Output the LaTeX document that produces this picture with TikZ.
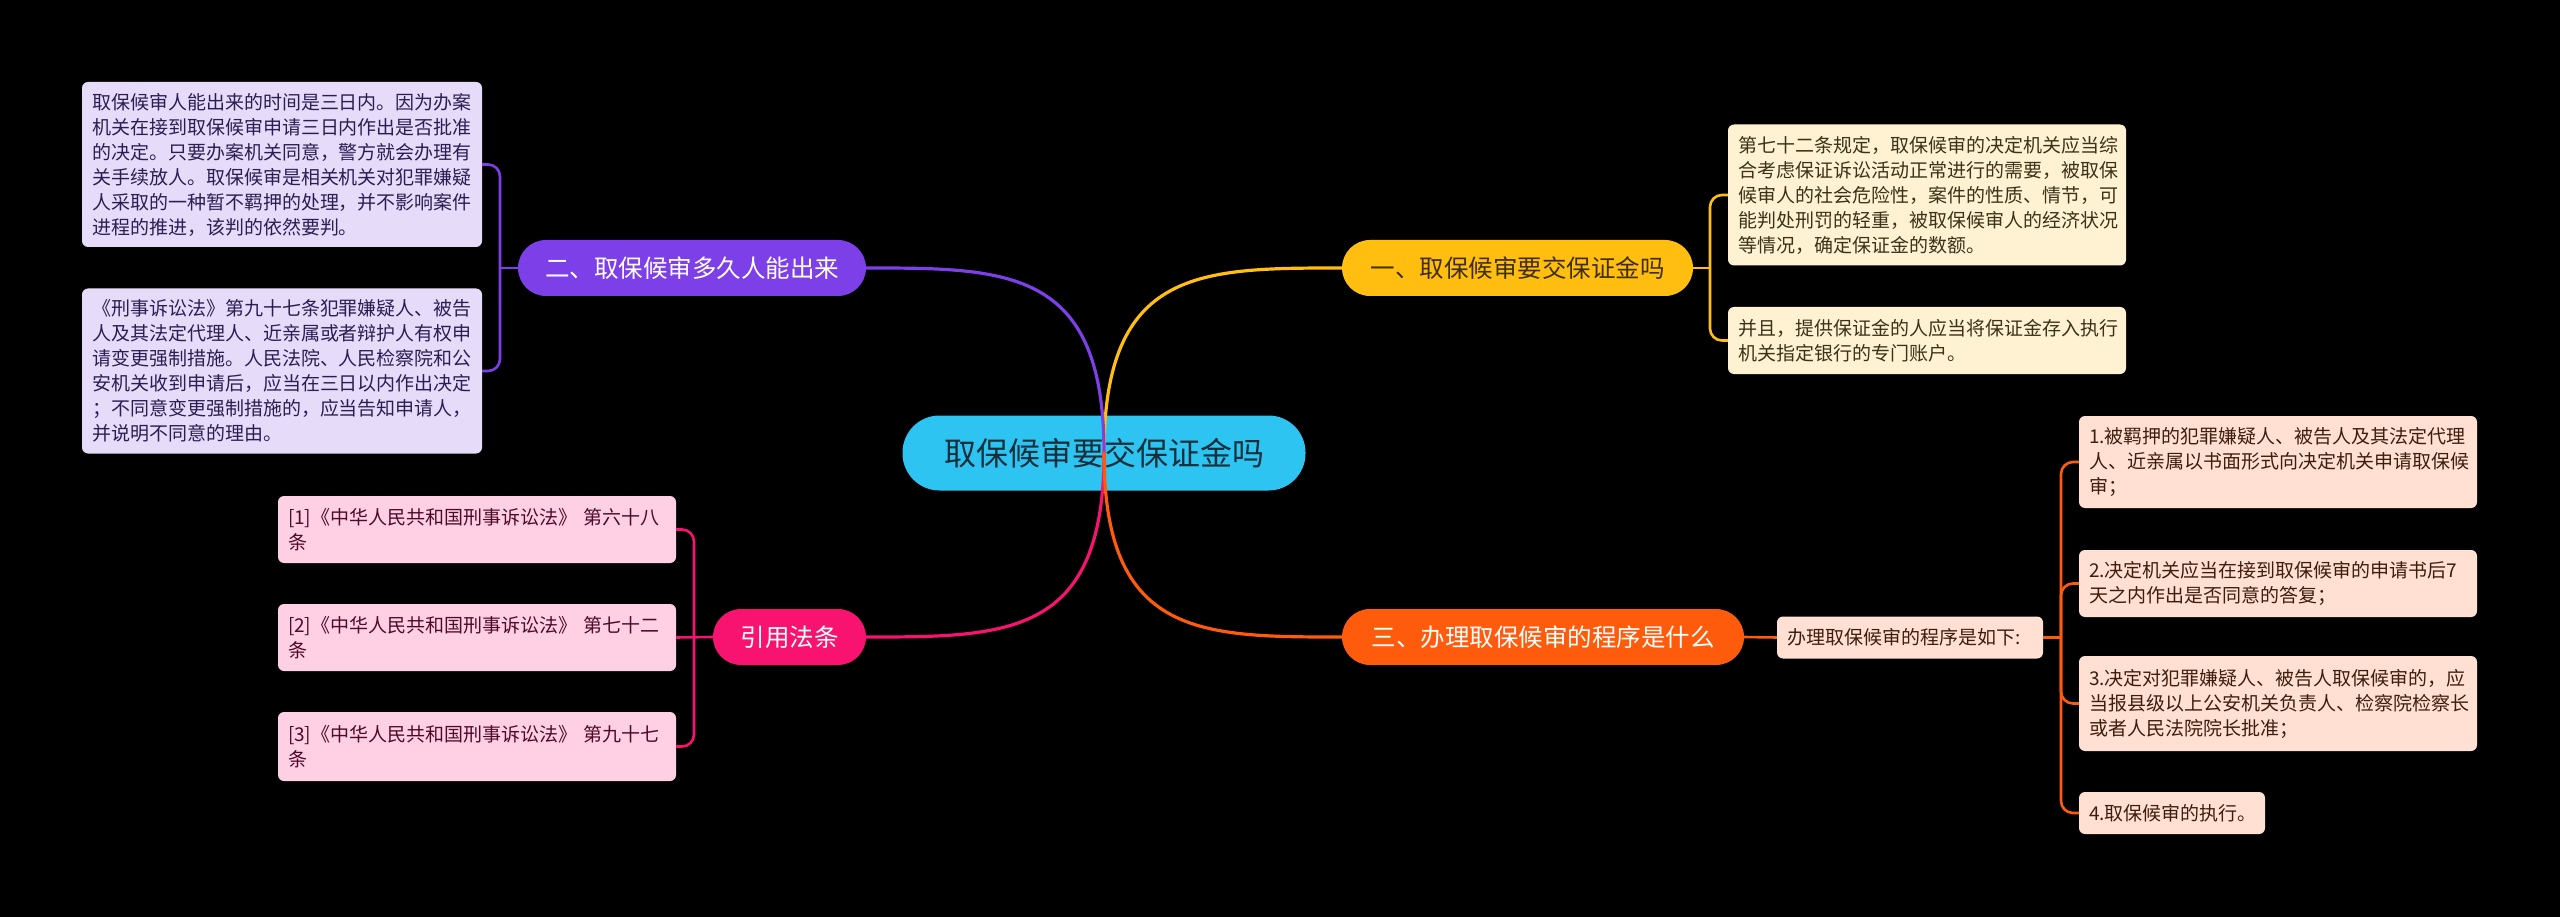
\documentclass[tikz,border=0pt]{standalone}
\usepackage{fontspec}
\newfontfamily\cjk{Noto Sans CJK SC}
\definecolor{bgc}{HTML}{000000}
\definecolor{rootc}{HTML}{2EC4F2}
\definecolor{roottxt}{HTML}{15303C}
\definecolor{cy}{HTML}{FFBE10}
\definecolor{cytxt}{HTML}{3F2E00}
\definecolor{cp}{HTML}{7D3FE8}
\definecolor{ck}{HTML}{F7136F}
\definecolor{co}{HTML}{FF5B0D}
\definecolor{ly}{HTML}{FFF2D3}
\definecolor{lp}{HTML}{E6DCFA}
\definecolor{lk}{HTML}{FFD0E4}
\definecolor{lo}{HTML}{FFE0D2}
\definecolor{ty}{HTML}{3B3218}
\definecolor{tp}{HTML}{2C1E52}
\definecolor{tk}{HTML}{4D0A2A}
\definecolor{to}{HTML}{3D1E0E}
\tikzset{
  rootnode/.style={rounded corners=37, fill=rootc, minimum width=403, minimum height=75, inner sep=0, text=roottxt, font=\cjk\fontsize{32}{38}\selectfont},
  branch/.style={rounded corners=28, minimum height=56, inner sep=0, font=\cjk\fontsize{24.5}{30}\selectfont},
  leaf/.style={rounded corners=6, inner xsep=10, inner ysep=0, align=left, font=\cjk\fontsize{19}{25}\selectfont},
  mainline/.style={line width=3.2, line cap=round},
  subline/.style={line width=2.6},
}
\begin{document}
\begin{tikzpicture}[x=1pt,y=-1pt]
\useasboundingbox (0,0) rectangle (2560,917);
\fill[bgc] (0,0) rectangle (2560,917);

% root
\node[rootnode] (root) at (1104,453) {取保候审要交保证金吗};

% branches
\node[branch, fill=cy, text=cytxt, minimum width=351] (b1) at (1517.5,268) {一、取保候审要交保证金吗};
\node[branch, fill=cp, text=white, minimum width=348] (b2) at (692,268) {二、取保候审多久人能出来};
\node[branch, fill=ck, text=white, minimum width=153] (b3) at (789.5,637) {引用法条};
\node[branch, fill=co, text=white, minimum width=402] (b4) at (1543,637) {三、办理取保候审的程序是什么};

% yellow leaves
\node[leaf, fill=ly, text=ty, text width=378, minimum height=141] (y1) at (1927,195) {第七十二条规定，取保候审的决定机关应当综\\合考虑保证诉讼活动正常进行的需要，被取保\\候审人的社会危险性，案件的性质、情节，可\\能判处刑罚的轻重，被取保候审人的经济状况\\等情况，确定保证金的数额。};
\node[leaf, fill=ly, text=ty, text width=378, minimum height=67] (y2) at (1927,340.5) {并且，提供保证金的人应当将保证金存入执行\\机关指定银行的专门账户。};

% purple leaves
\node[leaf, fill=lp, text=tp, text width=380, minimum height=165] (p1) at (282,164.5) {取保候审人能出来的时间是三日内。因为办案\\机关在接到取保候审申请三日内作出是否批准\\的决定。只要办案机关同意，警方就会办理有\\关手续放人。取保候审是相关机关对犯罪嫌疑\\人采取的一种暂不羁押的处理，并不影响案件\\进程的推进，该判的依然要判。};
\node[leaf, fill=lp, text=tp, text width=380, minimum height=165] (p2) at (282,371) {《刑事诉讼法》第九十七条犯罪嫌疑人、被告\\人及其法定代理人、近亲属或者辩护人有权申\\请变更强制措施。人民法院、人民检察院和公\\安机关收到申请后，应当在三日以内作出决定\\；不同意变更强制措施的，应当告知申请人，\\并说明不同意的理由。};

% pink leaves
\node[leaf, fill=lk, text=tk, text width=378, minimum height=67] (k1) at (477,529.5) {[1]《中华人民共和国刑事诉讼法》 第六十八\\条};
\node[leaf, fill=lk, text=tk, text width=378, minimum height=67] (k2) at (477,637.5) {[2]《中华人民共和国刑事诉讼法》 第七十二\\条};
\node[leaf, fill=lk, text=tk, text width=378, minimum height=69] (k3) at (477,746.5) {[3]《中华人民共和国刑事诉讼法》 第九十七\\条};

% orange leaves
\node[leaf, fill=lo, text=to, text width=246, minimum height=42] (o0) at (1910,637.5) {办理取保候审的程序是如下:};
\node[leaf, fill=lo, text=to, text width=378, minimum height=92] (o1) at (2278,462) {1.被羁押的犯罪嫌疑人、被告人及其法定代理\\人、近亲属以书面形式向决定机关申请取保候\\审；};
\node[leaf, fill=lo, text=to, text width=378, minimum height=67] (o2) at (2278,583.5) {2.决定机关应当在接到取保候审的申请书后7\\天之内作出是否同意的答复；};
\node[leaf, fill=lo, text=to, text width=378, minimum height=95] (o3) at (2278,703.5) {3.决定对犯罪嫌疑人、被告人取保候审的，应\\当报县级以上公安机关负责人、检察院检察长\\或者人民法院院长批准；};
\node[leaf, fill=lo, text=to, text width=166, minimum height=42] (o4) at (2172,813) {4.取保候审的执行。};

% main connectors
\draw[mainline, cy] (root.center) .. controls (1104,268) and (1200,268) .. (b1.west);
\draw[mainline, cp] (root.center) .. controls (1104,268) and (1008,268) .. (b2.east);
\draw[mainline, ck] (root.center) .. controls (1104,637) and (1008,637) .. (b3.east);
\draw[mainline, co] (root.center) .. controls (1104,637) and (1200,637) .. (b4.west);

% junctions
\coordinate (jy) at (1710,268);
\coordinate (jp) at (500,268);
\coordinate (jk) at (694,637);
\coordinate (jo) at (2061,637.5);

\draw[subline, cy] (b1.east) -- (jy);
\draw[subline, cy, rounded corners=12] (jy) |- (y1.west);
\draw[subline, cy, rounded corners=12] (jy) |- (y2.west);

\draw[subline, cp] (b2.west) -- (jp);
\draw[subline, cp, rounded corners=12] (jp) |- (p1.east);
\draw[subline, cp, rounded corners=12] (jp) |- (p2.east);

\draw[subline, ck] (b3.west) -- (k2.east);
\draw[subline, ck, rounded corners=12] (jk) |- (k1.east);
\draw[subline, ck, rounded corners=12] (jk) |- (k3.east);

\draw[subline, co] (b4.east) -- (o0.west);
\draw[subline, co] (o0.east) -- (jo);
\draw[subline, co, rounded corners=12] (jo) |- (o1.west);
\draw[subline, co, rounded corners=12] (jo) |- (o2.west);
\draw[subline, co, rounded corners=12] (jo) |- (o3.west);
\draw[subline, co, rounded corners=12] (jo) |- (o4.west);
\end{tikzpicture}
\end{document}
